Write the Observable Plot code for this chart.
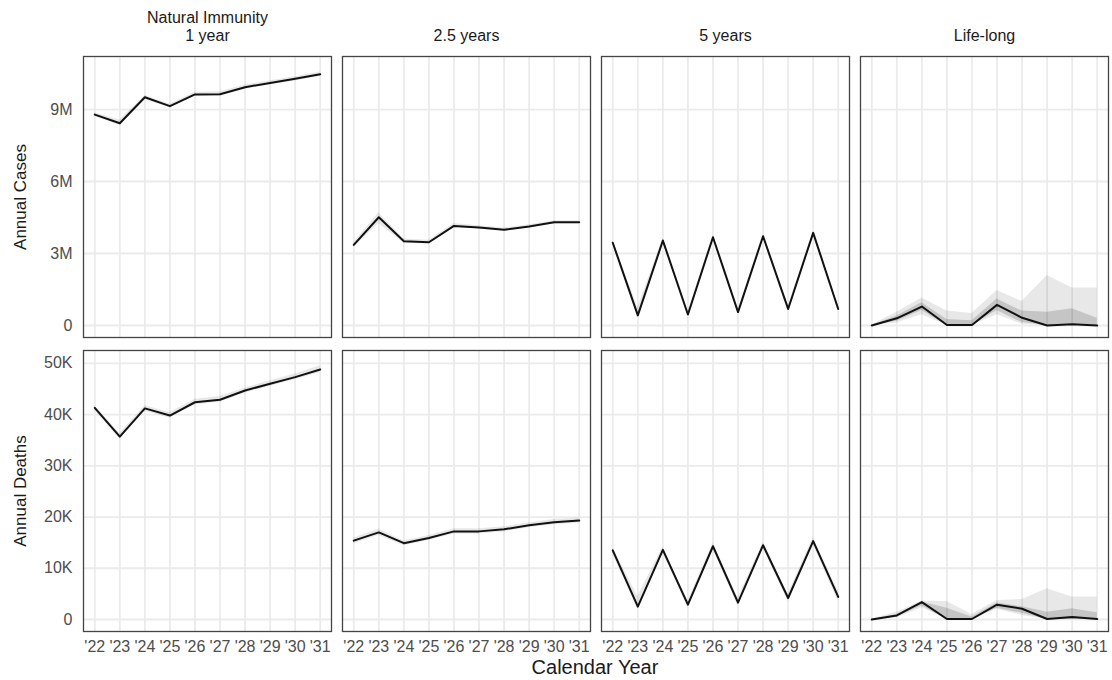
<!DOCTYPE html>
<html><head><meta charset="utf-8">
<script src="https://cdn.jsdelivr.net/npm/d3@7"></script>
<script src="https://cdn.jsdelivr.net/npm/@observablehq/plot@0.6"></script>
<style>
body{margin:0;background:#fff;font-family:"Liberation Sans",Arial,sans-serif;}
#xlab{width:1112px;box-sizing:border-box;padding-left:82px;padding-right:4px;text-align:center;font-size:20px;color:#1a1a1a;line-height:22px;}
svg{display:block;}
</style></head><body><div id="c"></div><div id="xlab">Calendar Year</div><script>
const years = [2022,2023,2024,2025,2026,2027,2028,2029,2030,2031];
const yearLabels = ["'22","'23","'24","'25","'26","'27","'28","'29","'30","'31"];
const panels = ["1 year","2.5 years","5 years","Life-long"];
const panelLabels = ["Natural Immunity\n1 year","2.5 years","5 years","Life-long"];
const caseTicks = [0,3e6,6e6,9e6];
const deathTicks = [0,1e4,2e4,3e4,4e4,5e4];

// Annual cases (millions)
const cases1 = [8.79,8.43,9.51,9.14,9.63,9.64,9.93,10.11,10.28,10.47];
const cases1Lo = [8.72,8.33,9.42,9.06,9.55,9.56,9.85,10.03,10.19,10.38];
const cases1Hi = [8.87,8.56,9.58,9.22,9.72,9.74,10.02,10.20,10.37,10.56];
const cases25 = [3.36,4.51,3.51,3.47,4.15,4.08,3.99,4.13,4.30,4.30];
const cases25Lo = [3.25,4.25,3.43,3.40,4.08,4.02,3.93,4.06,4.23,4.24];
const cases25Hi = [3.45,4.70,3.60,3.55,4.25,4.16,4.06,4.20,4.37,4.37];
const cases5 = [3.45,0.42,3.54,0.46,3.68,0.56,3.72,0.69,3.86,0.69];
const cases5Lo = [3.35,0.35,3.45,0.40,3.60,0.50,3.63,0.62,3.76,0.60];
const cases5Hi = [3.52,0.75,3.62,0.58,3.75,0.66,3.80,0.80,3.93,0.78];
const casesLife = [0.00,0.30,0.79,0.02,0.02,0.86,0.32,0.00,0.05,0.00];
const casesLifeLo = [0.00,0.10,0.45,0.00,0.00,0.45,0.05,0.00,0.00,0.00];
const casesLifeHi = [0.02,0.55,1.15,0.60,0.50,1.46,1.00,2.08,1.56,1.56];
const casesLifeLo50 = [0.00,0.18,0.62,0.00,0.00,0.62,0.12,0.00,0.00,0.00];
const casesLifeHi50 = [0.01,0.40,0.95,0.25,0.20,1.10,0.60,0.55,0.70,0.30];

// Annual deaths (thousands)
const deaths1 = [41.3,35.7,41.2,39.8,42.4,42.9,44.7,46.0,47.3,48.8];
const deaths1Lo = [40.8,35.2,40.7,39.3,41.9,42.4,44.2,45.5,46.8,48.2];
const deaths1Hi = [41.7,36.3,41.7,40.4,43.0,43.5,45.2,46.6,47.9,49.5];
const deaths25 = [15.4,17.0,14.9,15.9,17.2,17.2,17.6,18.4,19.0,19.3];
const deaths25Lo = [14.8,16.4,14.4,15.4,16.7,16.7,17.1,17.9,18.5,18.8];
const deaths25Hi = [15.9,17.6,15.3,16.4,17.7,17.7,18.1,18.9,19.5,19.8];
const deaths5 = [13.5,2.5,13.6,2.9,14.3,3.3,14.5,4.2,15.3,4.4];
const deaths5Lo = [12.8,2.0,13.0,2.3,13.6,2.7,13.9,3.5,14.6,3.5];
const deaths5Hi = [14.0,4.5,14.2,3.6,14.9,4.2,15.1,5.0,16.0,5.5];
const deathsLife = [0.0,0.8,3.4,0.1,0.1,2.9,2.1,0.1,0.5,0.1];
const deathsLifeLo = [0.0,0.3,2.3,0.0,0.0,2.0,0.8,0.0,0.0,0.0];
const deathsLifeHi = [0.1,1.4,3.6,3.5,1.0,3.7,3.9,6.0,4.4,4.4];
const deathsLifeLo50 = [0.0,0.5,2.7,0.0,0.0,2.2,1.2,0.0,0.0,0.0];
const deathsLifeHi50 = [0.05,1.0,3.4,2.2,0.5,3.2,2.5,1.4,2.1,1.3];

function buildRows(series, unit) {
  const out = [];
  series.forEach((s, i) => {
    years.forEach((yr, j) => {
      out.push({
        panel: panels[i], year: yr,
        v: s.v[j] * unit, lo: s.lo[j] * unit, hi: s.hi[j] * unit,
        lo2: s.lo2 ? s.lo2[j] * unit : null, hi2: s.hi2 ? s.hi2[j] * unit : null
      });
    });
  });
  return out;
}

const caseRows = buildRows([
  {v: cases1, lo: cases1Lo, hi: cases1Hi},
  {v: cases25, lo: cases25Lo, hi: cases25Hi},
  {v: cases5, lo: cases5Lo, hi: cases5Hi},
  {v: casesLife, lo: casesLifeLo, hi: casesLifeHi, lo2: casesLifeLo50, hi2: casesLifeHi50}
], 1e6);
const deathRows = buildRows([
  {v: deaths1, lo: deaths1Lo, hi: deaths1Hi},
  {v: deaths25, lo: deaths25Lo, hi: deaths25Hi},
  {v: deaths5, lo: deaths5Lo, hi: deaths5Hi},
  {v: deathsLife, lo: deathsLifeLo, hi: deathsLifeHi, lo2: deathsLifeLo50, hi2: deathsLifeHi50}
], 1e3);

const fontFam = '"Liberation Sans", Arial, sans-serif';
const gridColor = "#ebebeb";

function panelMarks(rows, ticks) {
  return [
    Plot.gridX(years, {stroke: gridColor, strokeOpacity: 1, strokeWidth: 1.8}),
    Plot.gridY(ticks, {stroke: gridColor, strokeOpacity: 1, strokeWidth: 1.8}),
    Plot.areaY(rows, {fx: "panel", x: "year", y1: "lo", y2: "hi", fill: "#000", fillOpacity: 0.09}),
    Plot.areaY(rows.filter(d => d.lo2 != null), {fx: "panel", x: "year", y1: "lo2", y2: "hi2", fill: "#000", fillOpacity: 0.15}),
    Plot.lineY(rows, {fx: "panel", x: "year", y: "v", stroke: "#111", strokeWidth: 2}),
    Plot.frame({stroke: "#444", strokeWidth: 1.3})
  ];
}

function yAxes(ticks, fmt, title) {
  return [
    Plot.axisY({ticks, tickSize: 0, tickPadding: 11, fill: "#4d4d4d", fontSize: 16, tickFormat: fmt, label: null}),
    Plot.axisY({ticks: [], tickSize: 0, fill: "#1a1a1a", fontSize: 17,
      label: title, labelAnchor: "center", labelArrow: "none", labelOffset: 70})
  ];
}

const xDomain = [years[0] - 0.45, years[years.length - 1] + 0.45];

const topChart = Plot.plot({
  width: 1112, height: 343,
  marginLeft: 82, marginRight: 4, marginTop: 56, marginBottom: 6,
  style: {fontFamily: fontFam, fontSize: "16px", background: "#fff"},
  fx: {domain: panels, padding: 0.0441, label: null},
  x: {domain: xDomain, axis: null},
  y: {domain: [-0.5e6, 11.21e6]},
  marks: [
    Plot.axisFx({anchor: "top", tickSize: 0, tickPadding: 16, label: null, fill: "#1a1a1a", fontSize: 16, lineHeight: 1.07,
      tickFormat: d => panelLabels[panels.indexOf(d)]}),
    ...yAxes(caseTicks, d => d === 0 ? "0" : (d / 1e6) + "M", "Annual Cases"),
    ...panelMarks(caseRows, caseTicks)
  ]
});

const bottomChart = Plot.plot({
  width: 1112, height: 313,
  marginLeft: 82, marginRight: 4, marginTop: 7, marginBottom: 25,
  style: {fontFamily: fontFam, fontSize: "16px", background: "#fff"},
  fx: {domain: panels, padding: 0.0441, label: null, axis: null},
  x: {domain: xDomain},
  y: {domain: [-2.34e3, 52.5e3]},
  marks: [
    Plot.axisX({ticks: years, tickSize: 0, tickPadding: 9, fill: "#4d4d4d", fontSize: 16, label: null,
      tickFormat: d => yearLabels[years.indexOf(d)]}),
    ...yAxes(deathTicks, d => d === 0 ? "0" : (d / 1e3) + "K", "Annual Deaths"),
    ...panelMarks(deathRows, deathTicks)
  ]
});

const c = document.getElementById("c");
c.appendChild(topChart);
c.appendChild(bottomChart);
</script></body></html>
